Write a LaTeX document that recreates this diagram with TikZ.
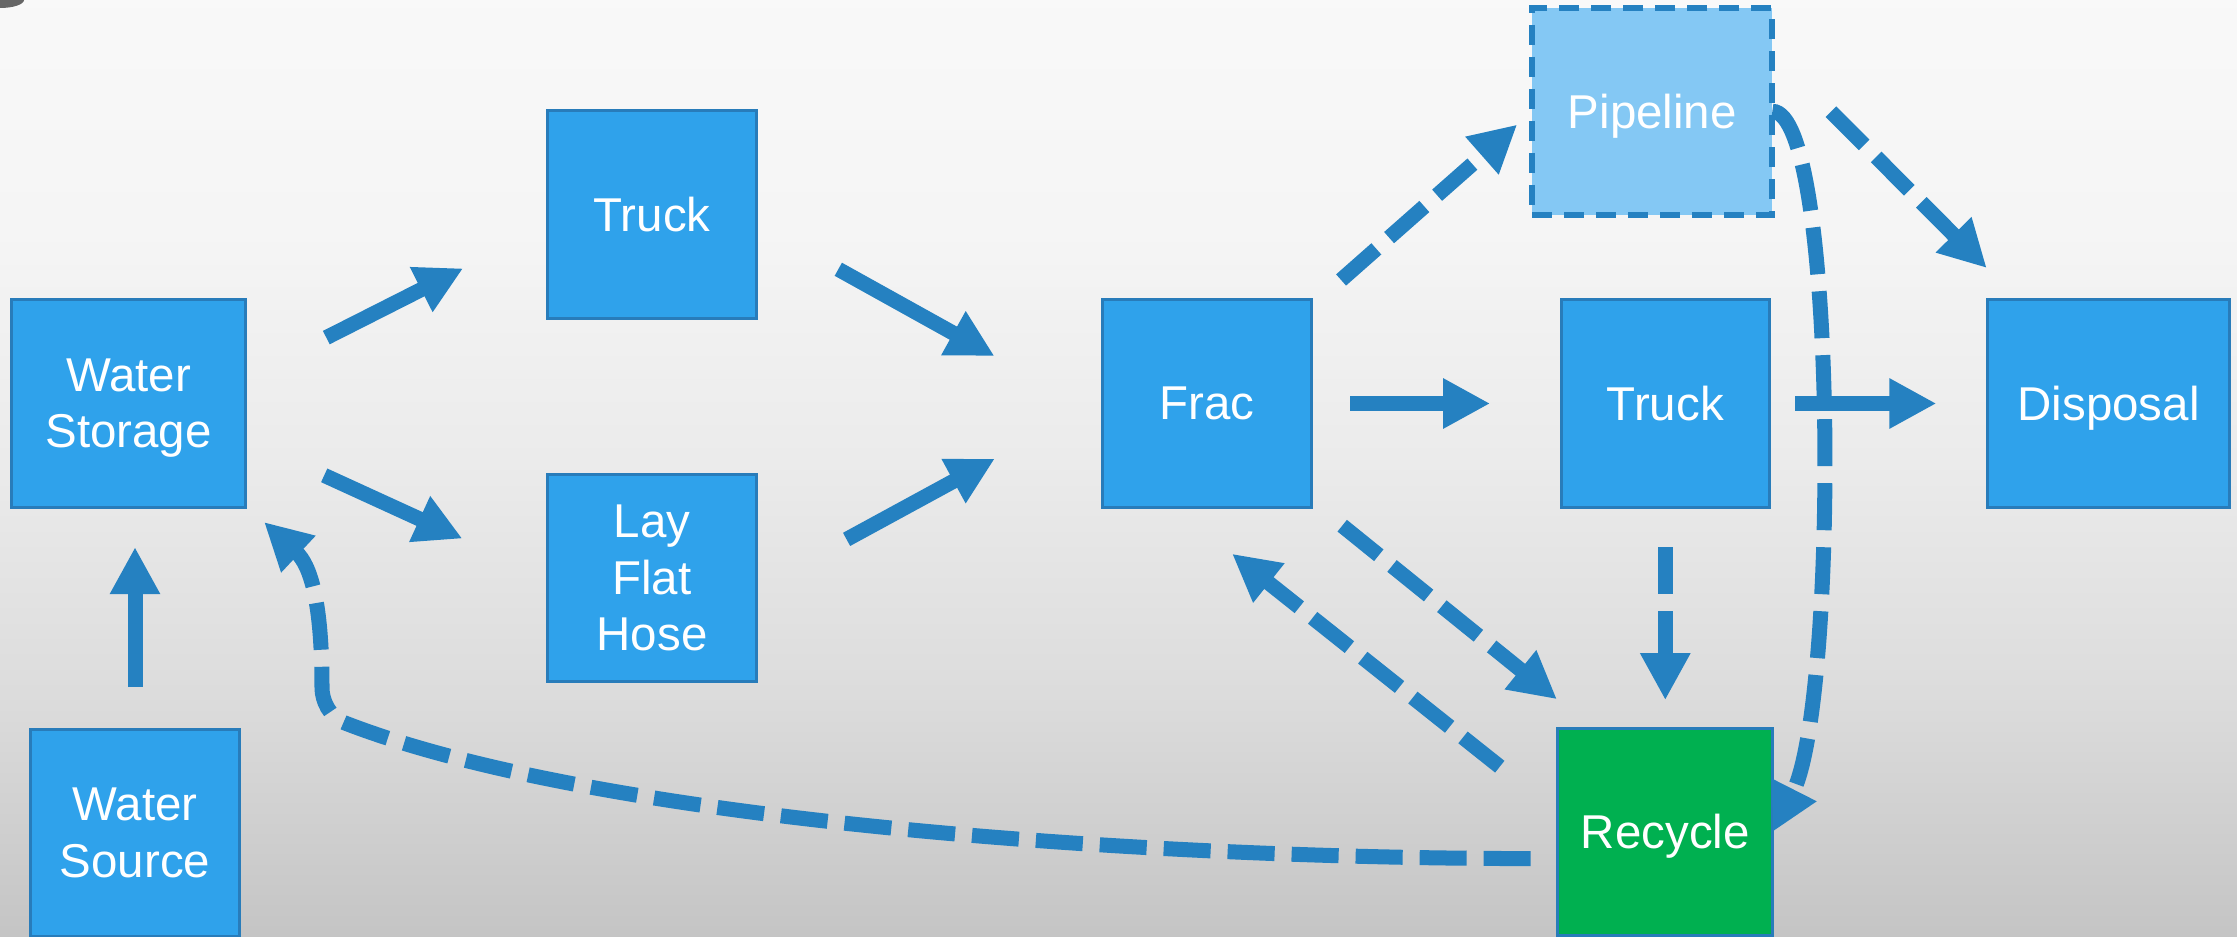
\documentclass[tikz,border=0pt]{standalone}
\usepackage{fontspec}
\setmainfont{Liberation Sans}
\usetikzlibrary
  {
    arrows.meta,              % sized triangle heads
    positioning,              % place nodes relative to other nodes
  }

\definecolor{boxblue}{RGB}{47,162,235}
\definecolor{edgeblue}{RGB}{40,124,186}
\definecolor{arrowblue}{RGB}{37,129,193}
\definecolor{pipeblue}{RGB}{132,200,244}
\definecolor{recyclegreen}{RGB}{0,176,80}
\definecolor{bgbottom}{gray}{0.77}
\definecolor{bglow}{gray}{0.86}
\definecolor{bgmid}{gray}{0.92}
\definecolor{bghigh}{gray}{0.96}
\definecolor{bgtop}{gray}{0.975}

\pgfdeclareverticalshading{backdrop}{100bp}
  {color(0bp)=(bgbottom); color(25bp)=(bgbottom); color(37.5bp)=(bglow);
   color(50bp)=(bgmid); color(62.5bp)=(bghigh); color(75bp)=(bgtop);
   color(100bp)=(bgtop)}

\begin{document}
\begin{tikzpicture}
    [
      x=0.01cm, y=-0.01cm,
      box/.style=
        {
          rectangle,
          draw=edgeblue,
          fill=boxblue,
          line width=0.03cm,
          minimum width=2.08cm,
          minimum height=2.07cm,
          inner sep=0pt,
          outer sep=0pt,
          text=white,
          text depth=0pt,
          align=center,
          font=\fontsize{13.5}{16}\selectfont,
        },
      pipe box/.style=
        {
          box,
          fill=pipeblue,
          draw=arrowblue,
          line width=0.06cm,
          dash pattern=on 0.2cm off 0.12cm,
        },
      flow/.style=
        {
          draw=arrowblue,
          line width=0.15cm,
          -{Triangle[length=4.7mm,width=4.7mm]},
        },
      option/.style=
        {
          flow,
          dash pattern=on 0.47cm off 0.17cm,
        },
    ]
    \useasboundingbox (0,0) rectangle (2237,937);
    \shade[shading=backdrop] (0,0) rectangle (2237,937);
    \fill[black!60] (0,0) ellipse [x radius=0.24cm, y radius=0.08cm];

    \node[box, minimum width=2.33cm] (storage)   at (128.5,403.5) {Water\\Storage};
    \node[box]        (source)     [below=2.22cm of storage, xshift=0.065cm] {Water\\Source};
    \node[box]        (truck)      at (652,214.5)                {Truck};
    \node[box]        (hose)       [below=1.56cm of truck]       {Lay\\Flat\\Hose};
    \node[box]        (frac)       at (1207,403.5)               {Frac};
    \node[box]        (haul truck) [right=2.5cm of frac]         {Truck};
    \node[box, minimum width=2.42cm] (disposal) [right=2.18cm of haul truck] {Disposal};
    \node[box, fill=recyclegreen, minimum width=2.15cm]
                      (recycle)    [below=2.21cm of haul truck]  {Recycle};
    \node[pipe box, minimum width=2.4cm]
                      (pipeline)   [above=0.85cm of haul truck, xshift=-0.13cm] {Pipeline};
    \coordinate (storage return) at ([shift={(19,15)}]storage.south east);

    % solid routes
    \draw [flow, shorten <=0.42cm, shorten >=0.40cm]
      (source.north) -- (source.north |- storage.south);
    \draw [flow, shorten <=0.91cm, shorten >=0.95cm] (storage.12) -- (truck.186);
    \draw [flow, shorten <=0.87cm, shorten >=0.94cm] (storage.-17) -- (hose.west);
    \draw [flow, shorten <=0.94cm, shorten >=1.24cm] (truck.-5) -- (frac.187);
    \draw [flow, shorten <=1.03cm, shorten >=1.23cm] (hose.-6) -- (frac.178);
    \draw [flow, shorten <=0.39cm, shorten >=0.71cm] (frac.east) -- (haul truck.west);
    \draw [flow, shorten <=0.26cm, shorten >=0.51cm] (haul truck.east) -- (disposal.west);

    % optional routes
    \draw [option, shorten <=0.40cm, shorten >=0.28cm]
      (haul truck.south) -- (haul truck.south |- recycle.north);
    \draw [option, shorten <=0.40cm, shorten >=0.20cm] (frac.43) -- (pipeline.west);
    \draw [option, shorten <=0.83cm, shorten >=0.45cm] (pipeline.26) -- (disposal.131);
    \draw [option, shorten <=0.40cm, shorten >=0.46cm] (frac.-43) -- (recycle.125);
    \draw [option, shorten <=0.74cm, shorten >=0.75cm] (recycle.170) -- (frac.252);
    \draw [option]
      (pipeline.east)
      .. controls +(66,0) and +(66,-130)
      .. (recycle.east);
    \draw [option, shorten <=0.27cm]
      (recycle.194)
      .. controls +(-409,0) and (600,822) .. (345,723)
      .. controls (329,717) and (322,700) .. (322,688)
      .. controls (322,600) and (310,565) .. (storage return);
  \end{tikzpicture}
\end{document}
